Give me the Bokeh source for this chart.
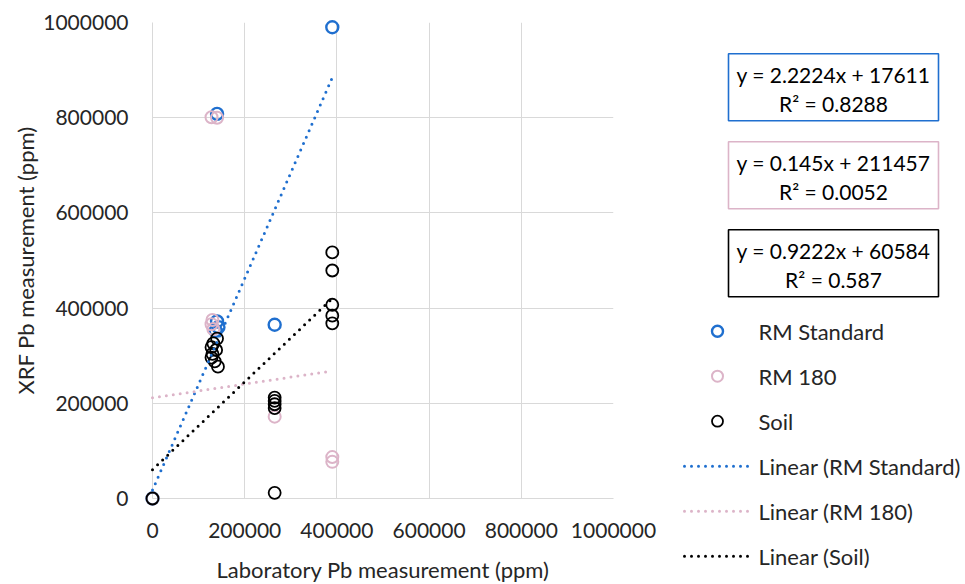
import math
from bokeh.plotting import figure
from bokeh.models import Range1d, FixedTicker, NumeralTickFormatter
from bokeh.embed import file_html
from bokeh.resources import INLINE
from bokeh.core.properties import value

FONT = "Lato"
TXT = "#262626"

# ---------------- data ----------------
series_names = ["RM Standard", "RM 180", "Soil"]
series_colors = ["#1f6fcf", "#dcb4c8", "#000000"]
series_widths = [2.4, 2.0, 1.8]

std_x = [0, 140000, 140000, 143000, 137000, 265000, 390000]
std_y = [0, 808000, 372000, 360000, 352000, 365000, 990000]

rm180_x = [0, 128000, 140000, 130000, 128000, 132000, 265000, 390000, 390000]
rm180_y = [0, 801000, 800000, 375000, 366000, 356000, 172000, 87000, 77000]

soil_x = [0, 140000, 132000, 128000, 138000, 130000, 128000, 135000, 142000,
          265000, 265000, 265000, 265000, 265000,
          390000, 390000, 390000, 390000, 390000]
soil_y = [0, 336000, 326000, 318000, 312000, 304000, 296000, 288000, 277000,
          212000, 205000, 198000, 190000, 12000,
          517000, 479000, 407000, 384000, 368000]

slopes = [2.2224, 0.145, 0.9222]
intercepts = [17611, 211457, 60584]
eq_texts = ["y = 2.2224x + 17611", "y = 0.145x + 211457", "y = 0.9222x + 60584"]
r2_texts = ["R\u00b2 = 0.8288", "R\u00b2 = 0.0052", "R\u00b2 = 0.587"]
trend_names = ["Linear (RM Standard)", "Linear (RM 180)", "Linear (Soil)"]

ticks = [0, 200000, 400000, 600000, 800000, 1000000]
x_title = "Laboratory Pb measurement (ppm)"
y_title = "XRF Pb measurement (ppm)"

xs_all = [std_x, rm180_x, soil_x]
ys_all = [std_y, rm180_y, soil_y]

# ---------------- layout geometry (canvas pixels) ----------------
W, H = 964, 583
FR_L, FR_R, FR_T, FR_B = 152, 613, 22, 498
XMAX = YMAX = 1000000

p = figure(width=W, height=H, x_range=Range1d(0, XMAX), y_range=Range1d(0, YMAX),
           output_backend="svg", toolbar_location=None, title=None,
           min_border_left=FR_L, min_border_right=W - FR_R,
           min_border_top=FR_T, min_border_bottom=H - FR_B)
p.outline_line_color = None
p.background_fill_color = "white"
p.border_fill_color = "white"

for ax in (p.xaxis[0], p.yaxis[0]):
    ax.ticker = FixedTicker(ticks=ticks)
    ax.formatter = NumeralTickFormatter(format="0")
    ax.axis_line_color = "#d9d9d9"
    ax.axis_line_width = 1
    ax.major_tick_line_color = None
    ax.major_tick_out = 0
    ax.major_tick_in = 0
    ax.minor_tick_line_color = None
    ax.minor_tick_out = 0
    ax.minor_tick_in = 0
    ax.major_label_text_font = FONT
    ax.major_label_text_font_size = "21px"
    ax.major_label_text_color = TXT
    ax.major_label_standoff = 24

for g in (p.xgrid[0], p.ygrid[0]):
    g.grid_line_color = "#d9d9d9"
    g.grid_line_width = 1

for xs, ys, c, w in zip(xs_all, ys_all, series_colors, series_widths):
    p.scatter(xs, ys, marker="circle", size=12, fill_color=None, line_color=c,
              line_width=w, level="overlay")

for xs, m, b, c in zip(xs_all, slopes, intercepts, series_colors):
    x0, x1 = min(xs), max(xs)
    p.line([x0, x1], [m * x0 + b, m * x1 + b], line_color=c, line_width=3,
           line_dash="0 7", line_cap="round", level="overlay")

# ---------------- canvas pixel -> data coordinate helpers (for decorations) ----------------
def dx(px):
    return (px - FR_L) / (FR_R - FR_L) * XMAX

def dy(py):
    return (FR_B - py) / (FR_B - FR_T) * YMAX

# axis titles
p.text(x=[dx((FR_L + FR_R) / 2)], y=[dy(569)], text=[x_title], text_align="center",
       text_baseline="middle", text_font=value(FONT), text_font_size="22px",
       text_color=TXT, level="overlay")
p.text(x=[dx(24.5)], y=[dy((FR_T + FR_B) / 2)], text=[y_title], angle=math.pi / 2,
       text_align="center", text_baseline="middle", text_font=value(FONT),
       text_font_size="22px", text_color=TXT, level="overlay")

# equation boxes
box_l, box_r = 728, 938
box_top0, box_pitch, box_h = 53.3, 88, 67
for i, (c, e, r) in enumerate(zip(series_colors, eq_texts, r2_texts)):
    top = box_top0 + i * box_pitch
    p.quad(left=[dx(box_l)], right=[dx(box_r)], top=[dy(top)], bottom=[dy(top + box_h)],
           fill_color="white", line_color=c, line_width=1.6, level="overlay")
    p.text(x=[dx((box_l + box_r) / 2)] * 2, y=[dy(top + 21), dy(top + 49.5)], text=[e, r],
           text_align="center", text_baseline="middle", text_font=value(FONT),
           text_font_size="21px", text_color="black", level="overlay")

# legend
leg_y0, leg_pitch = 330.7, 45
mk_x, ln_l, ln_r, tx_x = 717, 684, 750, 758
for i, (n, c, w) in enumerate(zip(series_names, series_colors, series_widths)):
    yy = dy(leg_y0 + i * leg_pitch)
    p.ellipse(x=[dx(mk_x)], y=[yy], width=11, height=11, width_units="screen",
              height_units="screen", fill_color=None, line_color=c, line_width=w,
              level="overlay")
    p.text(x=[dx(tx_x)], y=[yy], text=[n], text_baseline="middle", text_font=value(FONT),
           text_font_size="22px", text_color=TXT, level="overlay")
for j, (n, c) in enumerate(zip(trend_names, series_colors)):
    yy = dy(leg_y0 + (j + 3) * leg_pitch)
    p.line([dx(ln_l), dx(ln_r)], [yy, yy], line_color=c, line_width=3, line_dash="0 7",
           line_cap="round", level="overlay")
    p.text(x=[dx(tx_x)], y=[yy], text=[n], text_baseline="middle", text_font=value(FONT),
           text_font_size="22px", text_color=TXT, level="overlay")

open("out.html", "w").write(file_html(p, INLINE))
